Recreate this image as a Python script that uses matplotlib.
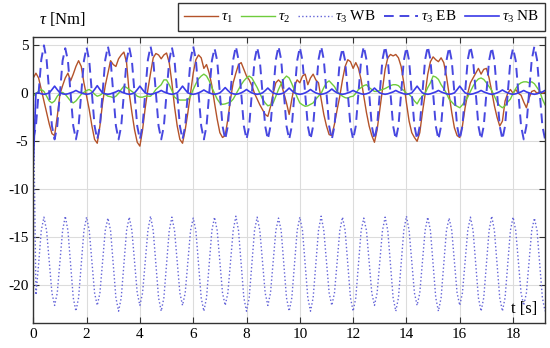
import matplotlib
matplotlib.use('Agg')
import matplotlib.pyplot as plt
import numpy as np

plt.rcParams['font.family'] = 'Liberation Serif'
plt.rcParams['mathtext.fontset'] = 'custom'
plt.rcParams['mathtext.rm'] = 'Liberation Serif'
plt.rcParams['mathtext.it'] = 'Liberation Serif:italic'
plt.rcParams['axes.unicode_minus'] = False

# sample times, 0.1 s step
t = np.round(np.arange(193) * 0.1, 1)

tau1 = [1.6, 2.1, 1.6, 0.4, -0.8, -2.0, -3.2, -4.2, -4.4, -2.4,
        -0.1, 0.8, 1.6, 2.1, 1.3, 2.0, 2.8, 3.4, 2.8, 1.1,
        -0.3, -1.7, -3.4, -4.8, -5.2, -3.4, -1.0, 0.8, 2.1, 3.4,
        3.0, 2.8, 3.6, 4.0, 4.3, 3.2, 0.0, -2.0, -3.8, -5.1,
        -5.5, -3.8, -1.5, 0.4, 2.1, 3.7, 4.15, 4.0, 3.6, 4.0,
        4.2, 3.2, 1.1, -1.4, -3.4, -4.8, -5.2, -3.8, -2.0, 0.0,
        2.1, 3.5, 4.0, 3.7, 2.6, 3.0, 2.1, 0.8, -1.0, -2.7,
        -4.1, -4.6, -4.4, -2.7, -0.6, 1.1, 2.1, 3.0, 3.2, 2.5,
        1.8, 1.4, 0.8, 0.0, -0.6, -1.2, -1.7, -2.2, -2.4, -1.4,
        0.0, 1.1, 1.4, 1.1, 0.0, -1.0, -2.2, -0.6, 0.8, 1.4,
        1.1, 1.8, 2.0, 0.9, 1.6, 2.0, 1.4, 1.1, -0.6, -2.2,
        -3.4, -4.3, -4.4, -3.2, -1.7, -0.3, 1.4, 2.8, 3.5, 3.3,
        2.6, 3.2, 2.6, 1.4, -0.3, -2.0, -3.4, -4.4, -5.1, -3.8,
        -1.7, 0.4, 2.5, 3.7, 4.05, 3.9, 4.05, 3.7, 2.8, 1.1,
        -1.0, -2.9, -4.1, -4.6, -5.0, -4.1, -2.0, -0.1, 2.0, 3.3,
        3.8, 3.5, 3.3, 3.7, 3.2, 1.8, -0.1, -2.0, -3.6, -4.4,
        -4.6, -3.4, -1.5, 0.0, 1.1, 1.6, 2.1, 2.6, 2.0, 2.5,
        2.6, 1.6, 0.2, -1.3, -2.5, -3.4, -2.9, -0.8, 0.0, 0.4,
        0.0, 0.4, 0.0, -0.2, -0.9, -1.5, -0.5, 0.2, 0.3, 0.0,
        0.2, 0.0, 0.1]

tau2 = [-0.3, 0.0, 0.2, 0.4, 0.2, -0.3, -0.8, -1.0, -0.8, -0.3,
        0.0, 0.1, -0.1, -0.45, -0.8, -1.0, -0.8, -0.45, -0.1, 0.1,
        0.3, 0.4, 0.2, -0.1, -0.3, -0.2, 0.0, -0.1, -0.3, -0.35,
        -0.45, -0.3, 0.0, 0.4, 0.75, 0.6, 0.4, 0.2, 0.0, -0.3,
        -0.4, -0.4, -0.3, -0.3, -0.3, 0.0, 0.4, 0.65, 0.9, 1.4,
        1.4, 0.9, 0.3, -0.4, -0.6, -0.7, -0.7, -0.7, -0.65, -0.3,
        0.4, 1.0, 1.5, 1.8, 2.0, 1.8, 1.3, 0.6, 0.0, -0.6,
        -1.0, -1.15, -1.1, -1.0, -0.9, -0.6, -0.1, 0.4, 0.9, 1.3,
        1.6, 1.8, 1.6, 1.1, 0.6, 0.0, -0.6, -1.0, -1.3, -1.2,
        -1.0, -0.3, 0.4, 1.0, 1.5, 1.8, 1.6, 1.0, 0.3, -0.4,
        -1.0, -1.2, -1.35, -1.3, -1.15, -1.0, -0.6, -0.3, 0.0, 0.6,
        1.1, 1.3, 1.0, 0.7, 0.2, -0.1, -0.3, -0.45, -0.5, -0.35,
        -0.3, 0.0, 0.4, 0.6, 0.8, 0.9, 0.6, 0.4, 0.2, 0.2,
        0.3, 0.4, 0.5, 0.65, 0.8, 0.9, 0.9, 0.8, 0.5, 0.3,
        0.0, -0.1, -0.4, -0.8, -1.1, -0.6, -0.3, 0.0, 0.6, 1.1,
        1.8, 1.7, 1.45, 0.9, 0.5, 0.0, -0.6, -0.9, -1.2, -1.35,
        -1.5, -1.2, -0.8, -0.4, 0.2, 0.75, 1.2, 1.5, 1.6, 1.45,
        1.1, 0.7, 0.3, -0.3, -0.9, -1.3, -1.5, -1.3, -0.9, -0.6,
        0.0, 0.5, 0.9, 1.1, 1.2, 1.2, 1.1, 1.2, 1.0, 0.6,
        0.2, -0.6, -1.2]

# tau3 without bearing, one row per 0.8 s
tau3_wb = [0.0, -21.0, -17.8, -14.3, -12.9, -14.3, -17.5, -20.8,
           -22.1, -20.8, -17.5, -14.3, -12.8, -14.3, -17.8, -21.3,
           -22.7, -21.3, -17.8, -14.3, -12.9, -14.3, -17.5, -20.8,
           -22.1, -20.8, -17.5, -14.3, -13.0, -14.3, -17.8, -21.3,
           -22.7, -21.3, -17.8, -14.3, -12.9, -14.3, -17.5, -20.8,
           -22.1, -20.8, -17.5, -14.3, -12.8, -14.3, -17.8, -21.3,
           -22.7, -21.3, -17.8, -14.3, -12.9, -14.3, -17.5, -20.8,
           -22.1, -20.8, -17.5, -14.3, -13.0, -14.3, -17.8, -21.3,
           -22.7, -21.3, -17.8, -14.3, -12.9, -14.3, -17.5, -20.8,
           -22.1, -20.8, -17.5, -14.3, -12.8, -14.3, -17.8, -21.3,
           -22.7, -21.3, -17.8, -14.3, -12.9, -14.3, -17.5, -20.8,
           -22.1, -20.8, -17.5, -14.3, -13.0, -14.3, -17.8, -21.3,
           -22.7, -21.3, -17.8, -14.3, -12.9, -14.3, -17.8, -21.3,
           -22.7, -21.3, -17.8, -14.3, -12.8, -14.3, -17.5, -20.8,
           -22.1, -20.8, -17.5, -14.3, -12.9, -14.3, -17.8, -21.3,
           -22.7, -21.3, -17.8, -14.3, -13.0, -14.3, -17.5, -20.8,
           -22.1, -20.8, -17.5, -14.3, -12.9, -14.3, -17.8, -21.3,
           -22.7, -21.3, -17.8, -14.3, -12.8, -14.3, -17.5, -20.8,
           -22.1, -20.8, -17.5, -14.3, -12.9, -14.3, -17.8, -21.3,
           -22.7, -21.3, -17.8, -14.3, -13.0, -14.3, -17.5, -20.8,
           -22.1, -20.8, -17.5, -14.3, -12.9, -14.3, -17.8, -21.3,
           -22.7, -21.3, -17.8, -14.3, -12.8, -14.3, -17.8, -21.3,
           -22.7, -21.3, -17.8, -14.3, -12.9, -14.3, -17.5, -20.8,
           -22.1, -20.8, -17.5, -14.3, -13.0, -14.3, -17.8, -21.3,
           -22.7]

tau3_eb = [-4.8, -3.4, 0.0, 3.5, 5.0, 3.5, 0.0, -3.4,
           -4.8, -3.4, 0.0, 3.4, 4.7, 3.4, 0.0, -3.4,
           -4.8, -3.4, 0.0, 3.4, 4.8, 3.4, 0.0, -3.4,
           -4.8, -3.4, 0.0, 3.5, 4.9, 3.5, 0.0, -3.4,
           -4.8, -3.4, 0.0, 3.4, 4.8, 3.4, 0.0, -3.4,
           -4.8, -3.4, 0.0, 3.5, 4.9, 3.5, 0.0, -3.4,
           -4.8, -3.4, 0.0, 3.4, 4.8, 3.4, 0.0, -3.4,
           -4.8, -3.4, 0.0, 3.5, 4.9, 3.5, 0.0, -3.4,
           -4.8, -3.4, 0.0, 3.4, 4.7, 3.4, 0.0, -3.4,
           -4.8, -3.4, 0.0, 3.5, 4.9, 3.5, 0.0, -3.4,
           -4.8, -3.4, 0.0, 3.4, 4.8, 3.4, 0.0, -3.4,
           -4.8, -3.4, 0.0, 3.5, 4.9, 3.5, 0.0, -3.4,
           -4.8, -3.4, 0.0, 3.4, 4.8, 3.4, 0.0, -3.4,
           -4.8, -3.4, 0.0, 3.5, 4.9, 3.5, 0.0, -3.4,
           -4.8, -3.4, 0.0, 3.4, 4.7, 3.4, 0.0, -3.4,
           -4.8, -3.4, 0.0, 3.5, 4.9, 3.5, 0.0, -3.4,
           -4.8, -3.4, 0.0, 3.5, 4.9, 3.5, 0.0, -3.4,
           -4.8, -3.4, 0.0, 3.4, 4.8, 3.4, 0.0, -3.4,
           -4.8, -3.4, 0.0, 3.5, 4.9, 3.5, 0.0, -3.4,
           -4.8, -3.4, 0.0, 3.4, 4.8, 3.4, 0.0, -3.4,
           -4.8, -3.4, 0.0, 3.5, 4.9, 3.5, 0.0, -3.4,
           -4.8, -3.4, 0.0, 3.4, 4.8, 3.4, 0.0, -3.4,
           -4.8, -3.4, 0.0, 3.4, 4.7, 3.4, 0.0, -3.4,
           -4.8, -3.4, 0.0, 3.5, 4.9, 3.5, 0.0, -3.4,
           -4.8]

tau3_nb = [-7.5, 0.0, 0.05, -0.05, -0.1, -0.05, 0.05, 0.38,
           0.75, 0.38, 0.05, -0.05, -0.1, -0.05, 0.05, 0.15,
           0.3, 0.15, 0.05, -0.05, -0.1, -0.05, 0.05, 0.4,
           0.8, 0.4, 0.05, -0.05, -0.1, -0.05, 0.05, 0.15,
           0.3, 0.15, 0.05, -0.05, -0.1, -0.05, 0.05, 0.38,
           0.75, 0.38, 0.05, -0.05, -0.1, -0.05, 0.05, 0.15,
           0.3, 0.15, 0.05, -0.05, -0.1, -0.05, 0.05, 0.38,
           0.75, 0.38, 0.05, -0.05, -0.1, -0.05, 0.05, 0.18,
           0.35, 0.18, 0.05, -0.05, -0.1, -0.05, 0.05, 0.3,
           0.6, 0.3, 0.05, -0.05, -0.1, -0.05, 0.05, 0.2,
           0.4, 0.2, 0.05, -0.05, -0.1, -0.05, 0.05, 0.28,
           0.55, 0.28, 0.05, -0.05, -0.1, -0.05, 0.05, 0.28,
           0.55, 0.28, 0.05, -0.05, -0.1, -0.05, 0.05, 0.2,
           0.4, 0.2, 0.05, -0.05, -0.1, -0.05, 0.05, 0.22,
           0.45, 0.22, 0.05, -0.05, -0.1, -0.05, 0.05, 0.15,
           0.3, 0.15, 0.05, -0.05, -0.1, -0.05, 0.05, 0.28,
           0.55, 0.28, 0.05, -0.05, -0.1, -0.05, 0.05, 0.15,
           0.3, 0.15, 0.05, -0.05, -0.1, -0.05, 0.05, 0.38,
           0.75, 0.38, 0.05, -0.05, -0.1, -0.05, 0.05, 0.15,
           0.3, 0.15, 0.05, -0.05, -0.1, -0.05, 0.05, 0.38,
           0.75, 0.38, 0.05, -0.05, -0.1, -0.05, 0.05, 0.15,
           0.3, 0.15, 0.05, -0.05, -0.1, -0.05, 0.05, 0.18,
           0.35, 0.18, 0.05, -0.05, -0.1, -0.05, 0.05, 0.15,
           0.3, 0.15, 0.05, -0.05, -0.1, -0.05, 0.05, 0.15,
           0.3]

fig = plt.figure(figsize=(5.5, 3.48), dpi=100)
ax = fig.add_axes([0.0605, 0.0727, 0.9305, 0.8218])

ax.plot(t, tau1, color='#b4532a', lw=1.0, label=r'$\tau_1$')
ax.plot(t, tau2, color='#6fcc3c', lw=1.0, label=r'$\tau_2$')
ax.plot(t, tau3_wb, color='#6464d8', lw=1.0, ls=':', label=r'$\tau_3$ WB')
ax.plot(t, tau3_eb, color='#4848e0', lw=1.4, ls=(0, (5, 3)), label=r'$\tau_3$ EB')
ax.plot(t, tau3_nb, color='#3a3ae8', lw=1.2, label=r'$\tau_3$ NB')

ax.set_xlim(0, 19.2)
ax.set_ylim(-23.9, 5.9)
ax.set_xticks(range(0, 19, 2))
ax.set_yticks([-20, -15, -10, -5, 0, 5])
ax.grid(True, color='#dcdcdc', lw=0.8)
ax.tick_params(direction='in', top=True, right=True, labelsize=11, length=4,
               color='#333333')
for s in ax.spines.values():
    s.set_color('#333333')
    s.set_linewidth(1.0)

fig.text(0.07, 0.945, r'$\tau$ [Nm]', fontsize=12, va='center', ha='left')
ax.text(0.985, 0.02, 't [s]', transform=ax.transAxes, fontsize=12,
        ha='right', va='bottom')

leg = fig.legend(loc='upper right', bbox_to_anchor=(0.996, 0.999), ncol=5,
                 fontsize=11, handlelength=2.2, handletextpad=0.2,
                 columnspacing=0.55, borderpad=0.38, borderaxespad=0.2,
                 fancybox=False, framealpha=1)
leg.get_frame().set_edgecolor('#333333')
leg.get_frame().set_linewidth(1.0)

fig.savefig('out.png', dpi=100)
